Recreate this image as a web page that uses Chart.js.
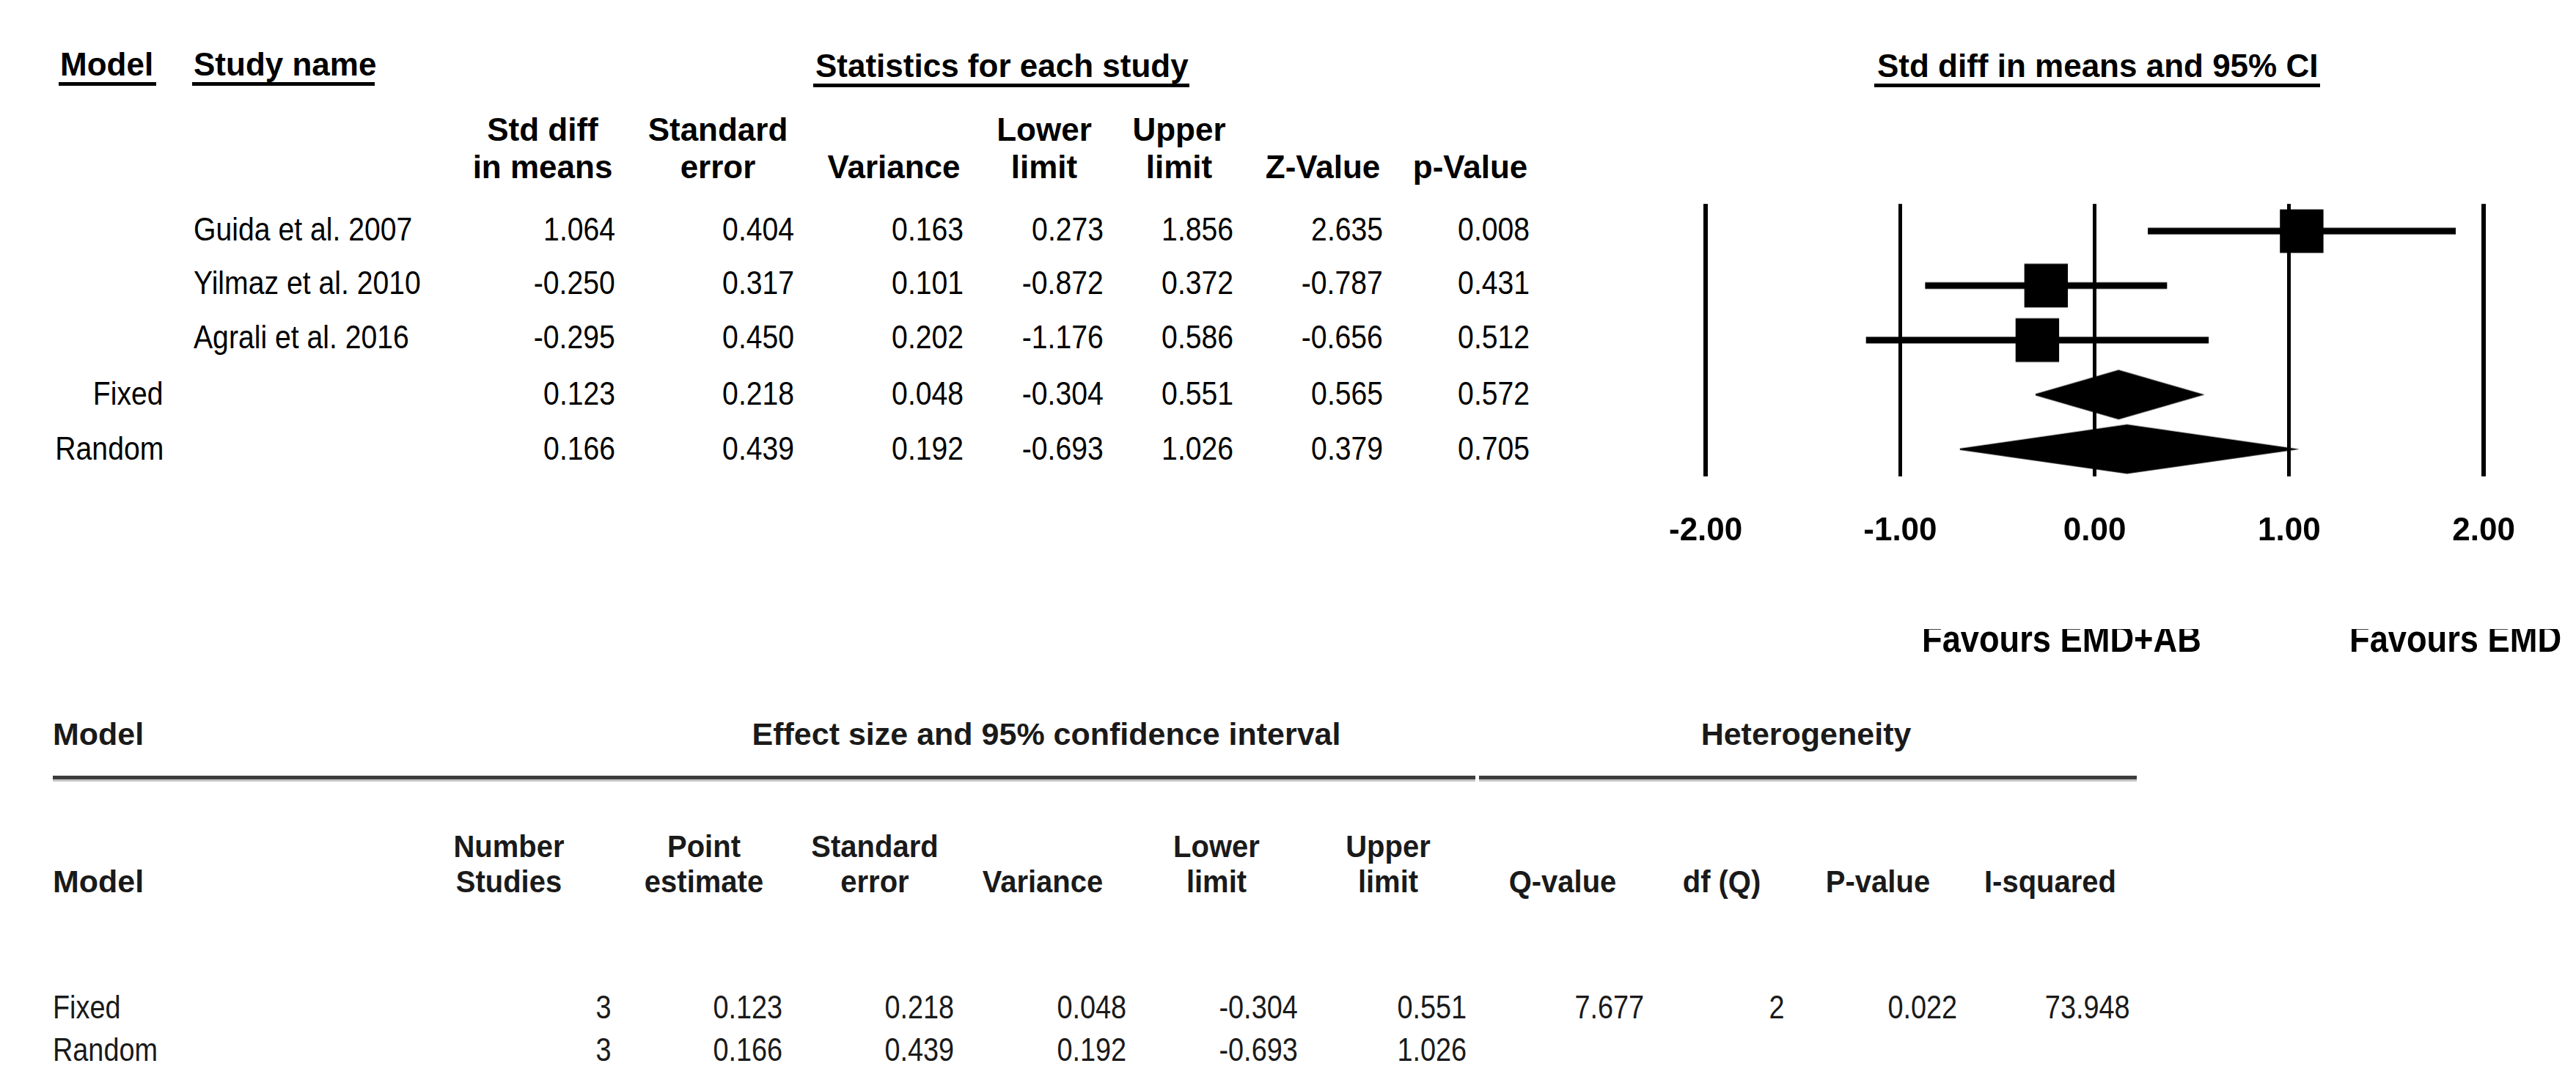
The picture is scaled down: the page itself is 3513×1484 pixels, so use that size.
<!DOCTYPE html>
<html>
<head>
<meta charset="utf-8">
<script src="https://cdn.jsdelivr.net/npm/chart.js@4.4.1/dist/chart.umd.min.js"></script>
<style>
html, body { margin: 0; padding: 0; background: #fff; }
#page { position: relative; width: 3513px; height: 1484px; overflow: hidden; font-family: "Liberation Sans", Arial, sans-serif; color: #000; }
.t { position: absolute; white-space: nowrap; line-height: 1; }
.rule { position: absolute; background: #000; }
#forestBox { position: absolute; left: 2200px; top: 240px; width: 1313px; height: 560px; }
.clip { position: absolute; overflow: hidden; }
</style>
</head>
<body>
<div id="page">
  <div id="forestBox"><canvas id="forest"></canvas></div>
</div>
<script>
// meta-analysis values
const studyNames = ['Guida et al. 2007', 'Yilmaz et al. 2010', 'Agrali et al. 2016'];
const modelNames = ['Fixed', 'Random'];
const stdDiff    = [1.064, -0.250, -0.295, 0.123, 0.166];
const stdErr     = [0.404, 0.317, 0.450, 0.218, 0.439];
const variance   = [0.163, 0.101, 0.202, 0.048, 0.192];
const lowerLimit = [0.273, -0.872, -1.176, -0.304, -0.693];
const upperLimit = [1.856, 0.372, 0.586, 0.551, 1.026];
const zValue     = [2.635, -0.787, -0.656, 0.565, 0.379];
const pValue     = [0.008, 0.431, 0.512, 0.572, 0.705];
const axisTicks  = [-2, -1, 0, 1, 2];

// summary table (bottom)
const numberStudies = [3, 3];
const qValue = [7.677, null];
const dfQ = [2, null];
const pHet = [0.022, null];
const iSquared = [73.948, null];

const page = document.getElementById('page');
const PAGE_W = 3513;
const FONT = '"Liberation Sans", Arial, sans-serif';

function put(txt, x, base, o) {
  o = o || {};
  const size = o.size || 44;
  const sx = o.sx || 1;
  const d = document.createElement('div');
  d.className = 't';
  d.textContent = txt;
  d.style.fontSize = size + 'px';
  d.style.fontWeight = o.bold ? 'bold' : 'normal';
  if (o.color) d.style.color = o.color;
  d.style.top = (base - 0.8465 * size) + 'px';
  if (o.align === 'r') {
    d.style.right = (PAGE_W - x) + 'px';
    d.style.transformOrigin = 'right';
    d.style.transform = 'scaleX(' + sx + ')';
  } else if (o.align === 'c') {
    d.style.left = x + 'px';
    d.style.transformOrigin = 'center';
    d.style.transform = 'translateX(-50%) scaleX(' + sx + ')';
  } else {
    d.style.left = x + 'px';
    d.style.transformOrigin = 'left';
    d.style.transform = 'scaleX(' + sx + ')';
  }
  (o.parent || page).appendChild(d);
  return d;
}

function rule(x1, x2, y, h, color) {
  const d = document.createElement('div');
  d.className = 'rule';
  d.style.left = x1 + 'px';
  d.style.width = (x2 - x1) + 'px';
  d.style.top = y + 'px';
  d.style.height = h + 'px';
  if (color) d.style.background = color;
  page.appendChild(d);
}

const fmt = v => (v === null ? '' : v.toFixed(3));
const SX = 0.89;

// ---- top table ----
put('Model', 82, 103, { bold: true });
rule(80, 213, 112, 5);
put('Study name', 264, 103, { bold: true });
rule(262, 511, 112, 5);
put('Statistics for each study', 1112, 105, { bold: true });
rule(1109, 1622, 114, 5);
put('Std diff in means and 95% CI', 2560, 105, { bold: true });
rule(2556, 3164, 114, 5);

const topHead = [['Std diff', 'in means'], ['Standard', 'error'], ['', 'Variance'],
                 ['Lower', 'limit'], ['Upper', 'limit'], ['', 'Z-Value'], ['', 'p-Value']];
const topHeadX = [740, 979, 1219, 1424, 1608, 1804, 2005];
const topColR = [839, 1083, 1314, 1505, 1682, 1886, 2086];
topHead.forEach((h, c) => {
  if (h[0]) put(h[0], topHeadX[c], 192, { bold: true, align: 'c' });
  put(h[1], topHeadX[c], 243, { bold: true, align: 'c' });
});

const rowBase = [328, 401, 475, 552, 627];
const topCols = [stdDiff, stdErr, variance, lowerLimit, upperLimit, zValue, pValue];
rowBase.forEach((b, i) => {
  if (i < studyNames.length) put(studyNames[i], 264, b, { sx: SX });
  else put(modelNames[i - studyNames.length], 223, b, { sx: SX, align: 'r' });
  topCols.forEach((col, c) => put(fmt(col[i]), topColR[c], b, { sx: SX, align: 'r' }));
});

// favours labels, cut at the top as in the source
[['Favours EMD+AB', 2621], ['Favours EMD', 3204]].forEach(([txt, x]) => {
  const c = document.createElement('div');
  c.className = 'clip';
  c.style.left = x + 'px';
  c.style.top = '858px';
  c.style.width = (PAGE_W - x) + 'px';
  c.style.height = '40px';
  page.appendChild(c);
  put(txt, 0, 31, { bold: true, size: 52, sx: 0.87, parent: c });
});

// ---- bottom table ----
const BC = '#1a1a1a';
put('Model', 72, 1016, { bold: true, size: 43, color: BC });
put('Effect size and 95% confidence interval', 1427, 1016, { bold: true, size: 43, color: BC, align: 'c' });
put('Heterogeneity', 2463, 1016, { bold: true, size: 43, color: BC, align: 'c' });
rule(72, 2012, 1058, 5, '#3c3c3c');
rule(72, 2012, 1063, 3, '#c4c4c4');
rule(2017, 2914, 1058, 5, '#3c3c3c');
rule(2017, 2914, 1063, 3, '#c4c4c4');

put('Model', 72, 1217, { bold: true, size: 43, color: BC });
const botHead = [['Number', 'Studies'], ['Point', 'estimate'], ['Standard', 'error'], ['', 'Variance'],
                 ['Lower', 'limit'], ['Upper', 'limit'], ['', 'Q-value'], ['', 'df (Q)'], ['', 'P-value'], ['', 'I-squared']];
const botHeadX = [694, 960, 1193, 1422, 1659, 1893, 2131, 2348, 2561, 2796];
const botColR = [833, 1067, 1301, 1536, 1770, 2000, 2242, 2433, 2669, 2905];
botHead.forEach((h, c) => {
  if (h[0]) put(h[0], botHeadX[c], 1169, { bold: true, size: 43, color: BC, align: 'c', sx: 0.93 });
  put(h[1], botHeadX[c], 1217, { bold: true, size: 43, color: BC, align: 'c', sx: 0.93 });
});
const botBase = [1389, 1447];
modelNames.forEach((m, k) => {
  const i = studyNames.length + k;
  put(m, 72, botBase[k], { size: 44, sx: 0.86, color: BC });
  const vals = [String(numberStudies[k]), fmt(stdDiff[i]), fmt(stdErr[i]), fmt(variance[i]),
                fmt(lowerLimit[i]), fmt(upperLimit[i]), fmt(qValue[k]),
                dfQ[k] === null ? '' : String(dfQ[k]), fmt(pHet[k]), fmt(iSquared[k])];
  vals.forEach((v, c) => { if (v) put(v, botColR[c], botBase[k], { size: 44, sx: 0.86, color: BC, align: 'r' }); });
});

// ---- forest plot ----
const DH = 0.44; // half height of the summary diamonds, in rows
const squareSet = {
  label: 'Std diff in means',
  data: studyNames.map((n, i) => ({ x: stdDiff[i], y: i })),
  pointStyle: 'rect',
  pointRadius: 42,
  pointHoverRadius: 42,
  backgroundColor: '#000',
  borderWidth: 0
};
const ciSets = studyNames.map((n, i) => ({
  label: n,
  showLine: true,
  data: [{ x: lowerLimit[i], y: i }, { x: upperLimit[i], y: i }],
  borderColor: '#000',
  borderWidth: 9,
  borderCapStyle: 'butt',
  pointRadius: 0
}));
const diamondSets = modelNames.map((n, k) => {
  const i = studyNames.length + k;
  return {
    label: n,
    showLine: true,
    fill: 'shape',
    data: [
      { x: lowerLimit[i], y: i },
      { x: stdDiff[i], y: i - DH },
      { x: upperLimit[i], y: i },
      { x: stdDiff[i], y: i + DH },
      { x: lowerLimit[i], y: i }
    ],
    borderColor: '#000',
    backgroundColor: '#000',
    borderWidth: 2,
    pointRadius: 0,
    tension: 0
  };
});

const forest = new Chart(document.getElementById('forest'), {
  type: 'scatter',
  data: { datasets: [squareSet].concat(ciSets, diamondSets) },
  options: {
    responsive: true,
    maintainAspectRatio: false,
    animation: false,
    layout: { padding: 0 },
    plugins: {
      legend: { display: false },
      tooltip: { enabled: false }
    },
    scales: {
      x: {
        type: 'linear',
        min: -2,
        max: 2,
        afterBuildTicks: s => { s.ticks = axisTicks.map(v => ({ value: v })); },
        ticks: {
          callback: v => Number(v).toFixed(2),
          font: { family: FONT, size: 44, weight: 'bold' },
          color: '#000',
          padding: 48,
          maxRotation: 0,
          autoSkip: false
        },
        grid: {
          color: '#000',
          lineWidth: c => (c.tick && Math.abs(c.tick.value) === 2 ? 6 : 5),
          drawTicks: false
        },
        border: { display: false }
      },
      y: {
        type: 'linear',
        min: -0.5,
        max: 4.5,
        reverse: true,
        display: false
      }
    }
  }
});

// line the plot area up with the table rows
const PLOT = { left: 2326, right: 3387, top: 278, bottom: 649 };
const box = document.getElementById('forestBox');
let bx = 2200, by = 240, bw = 1313, bh = 560;
const ca = forest.chartArea;
bx += PLOT.left - (bx + ca.left);
by += PLOT.top - (by + ca.top);
bw += (PLOT.right - PLOT.left) - (ca.right - ca.left);
bh += (PLOT.bottom - PLOT.top) - (ca.bottom - ca.top);
box.style.left = bx + 'px';
box.style.top = by + 'px';
box.style.width = bw + 'px';
box.style.height = bh + 'px';
forest.resize();
</script>
</body>
</html>
